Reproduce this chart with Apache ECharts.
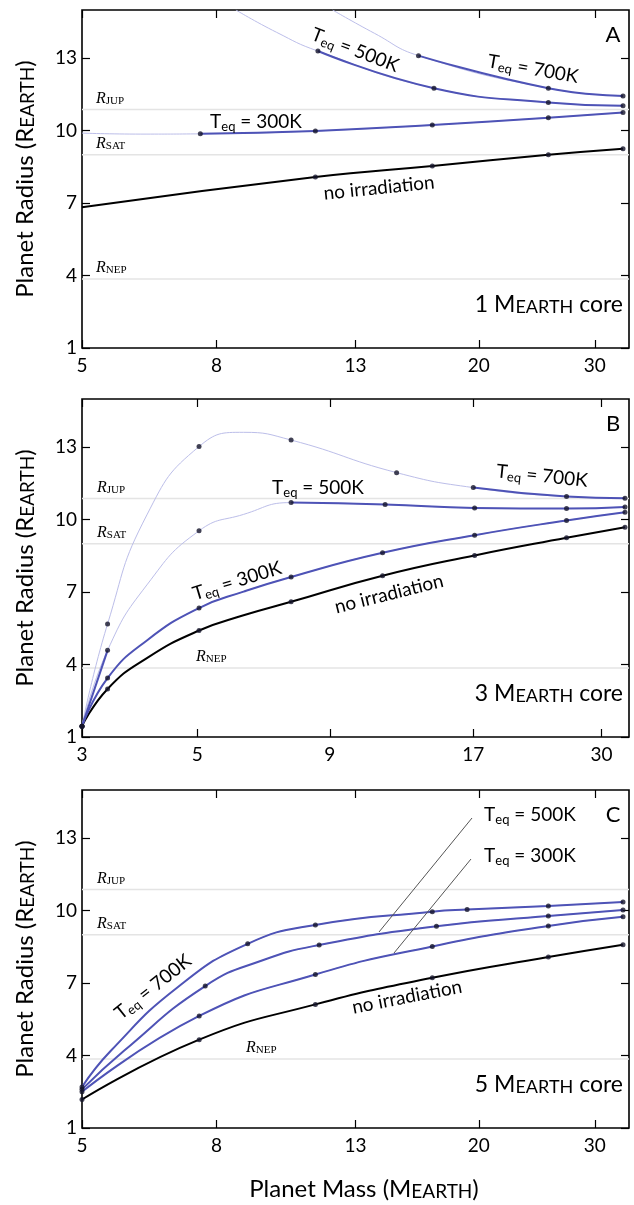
<!DOCTYPE html>
<html><head><meta charset="utf-8">
<script src="https://cdn.jsdelivr.net/npm/echarts@6/dist/echarts.min.js"></script>
<style>html,body{margin:0;padding:0;background:#fff}#c{width:634px;height:1205px}</style>
</head><body><div id="c"></div>
<script>
// ================= DATA =================
const radiusTicks = [1, 4, 7, 10, 13];
const radiusRange = [1, 15];
const refNames = ['JUP', 'SAT', 'NEP'];
const refRadii = [10.88, 9.0, 3.86];

const panelNames = ['A', 'B', 'C'];
const coreMasses = ['1', '3', '5'];
const massRangeA = [5, 33.8];
const massTicksA = [5, 8, 13, 20, 30];
const massRangeB = [3, 33.9];
const massTicksB = [3, 5, 9, 17, 30];
const massRangeC = [5, 33.8];
const massTicksC = [5, 8, 13, 20, 30];

// Panel A : 1 M_EARTH core   ([mass, radius]); model = dotted points, extra = curve-only points
const A_noirr_model = [[11.3, 8.08], [17.0, 8.54], [25.5, 9.00], [33.1, 9.25]];
const A_noirr_extra = [[5.0, 6.83]];
const A_noirr_thick = [[5, 34]];
const A_t300_model = [[7.56, 9.87], [11.3, 9.99], [17.0, 10.24], [25.5, 10.54], [33.1, 10.75]];
const A_t300_extra = [[5.0, 9.90], [6.14, 9.86]];
const A_t300_thick = [[7.5, 34]];
const A_t500_model = [[11.4, 13.30], [17.1, 11.76], [25.5, 11.17], [33.1, 11.03]];
const A_t500_extra = [[8.56, 15.0], [9.86, 14.08]];
const A_t500_thick = [[11.3, 34]];
const A_t700_model = [[16.2, 13.11], [25.5, 11.76], [33.1, 11.44]];
const A_t700_extra = [[12.0, 15.0], [13.9, 14.03]];
const A_t700_thick = [[16, 34]];

// Panel B : 3 M_EARTH core
const B_noirr_model = [[3.0, 1.45], [3.36, 2.99], [5.04, 5.41], [7.58, 6.60], [11.37, 7.68], [17.1, 8.52], [25.7, 9.25], [33.3, 9.69]];
const B_noirr_extra = [[4.0, 4.27], [6.14, 6.04]];
const B_noirr_thick = [[3, 34]];
const B_t300_model = [[3.0, 1.45], [3.36, 3.44], [5.04, 6.34], [7.58, 7.63], [11.37, 8.63], [17.1, 9.36], [25.7, 9.97], [33.3, 10.31]];
const B_t300_extra = [[4.0, 5.0], [6.14, 7.02]];
const B_t300_thick = [[3, 34]];
const B_t500_model = [[3.0, 1.45], [3.36, 4.59], [5.04, 9.54], [7.58, 10.71], [11.5, 10.63], [17.1, 10.49], [25.7, 10.46], [33.3, 10.53]];
const B_t500_extra = [[4.0, 7.3], [6.14, 10.22]];
const B_t500_thick = [[3, 3.4], [7.5, 34]];
const B_t700_model = [[3.0, 1.45], [3.36, 5.68], [5.04, 13.03], [7.58, 13.30], [12.1, 11.95], [17.0, 11.33], [25.7, 10.96], [33.3, 10.89]];
const B_t700_extra = [[4.0, 10.2], [6.14, 13.62]];
const B_t700_thick = [[16.9, 34]];

// Panel C : 5 M_EARTH core
const C_noirr_model = [[5.0, 2.18], [7.53, 4.66], [11.3, 6.12], [17.0, 7.22], [25.5, 8.08], [33.1, 8.59]];
const C_noirr_extra = [];
const C_noirr_thick = [[5, 34]];
const C_t300_model = [[5.0, 2.5], [7.53, 5.64], [11.3, 7.36], [17.0, 8.52], [25.5, 9.37], [33.1, 9.75]];
const C_t300_extra = [];
const C_t300_thick = [[5, 34]];
const C_t500_model = [[5.0, 2.6], [7.69, 6.88], [11.45, 8.58], [17.25, 9.36], [25.5, 9.78], [33.1, 10.03]];
const C_t500_extra = [[5.79, 4.2], [9.4, 7.95]];
const C_t500_thick = [[5, 34]];
const C_t700_model = [[5.0, 2.7], [8.92, 8.63], [11.3, 9.41], [17.0, 9.96], [19.2, 10.05], [25.5, 10.2], [33.1, 10.36]];
const C_t700_extra = [[5.53, 4.2], [7.0, 6.85]];
const C_t700_thick = [[5, 34]];

// ================= STYLE / LAYOUT =================
const BLUE = '#4e53b6', FAINT = '#bcbee9', BLACK = '#000', DOT = '#14142a';
const SANS = 'Lato', SERIF = 'Liberation Serif';
const GL = 82, GW = 547, GH = 338;
const GTOPS = [10, 399, 790];
const SMOOTH = 0.5;

const panels = [
  {range: massRangeA, ticks: massTicksA, curves: [
    [A_noirr_model, A_noirr_extra, A_noirr_thick, false],
    [A_t300_model, A_t300_extra, A_t300_thick, true],
    [A_t500_model, A_t500_extra, A_t500_thick, true],
    [A_t700_model, A_t700_extra, A_t700_thick, true]]},
  {range: massRangeB, ticks: massTicksB, curves: [
    [B_noirr_model, B_noirr_extra, B_noirr_thick, false],
    [B_t300_model, B_t300_extra, B_t300_thick, true],
    [B_t500_model, B_t500_extra, B_t500_thick, true],
    [B_t700_model, B_t700_extra, B_t700_thick, true]]},
  {range: massRangeC, ticks: massTicksC, curves: [
    [C_noirr_model, C_noirr_extra, C_noirr_thick, false],
    [C_t300_model, C_t300_extra, C_t300_thick, true],
    [C_t500_model, C_t500_extra, C_t500_thick, true],
    [C_t700_model, C_t700_extra, C_t700_thick, true]]}
];

const grid = [], xAxis = [], yAxis = [], series = [];
panels.forEach((p, i) => {
  grid.push({left: GL, top: GTOPS[i], width: GW, height: GH, show: true,
    borderColor: '#000', borderWidth: 1.6, backgroundColor: 'transparent'});
  const lt = p.ticks.map(Math.log10);
  const tickStyle = {show: true, inside: true, length: 8, customValues: lt, lineStyle: {color: '#000', width: 1.2}};
  xAxis.push({type: 'log', logBase: 10, gridIndex: i, min: p.range[0], max: p.range[1], show: false});
  xAxis.push({type: 'value', gridIndex: i, position: 'bottom', min: Math.log10(p.range[0]), max: Math.log10(p.range[1]),
    splitLine: {show: false}, axisLine: {show: false}, axisTick: tickStyle,
    axisLabel: {customValues: lt, formatter: v => String(Math.round(Math.pow(10, v))),
      fontFamily: SANS, fontSize: 19, color: '#000', margin: 8}});
  xAxis.push({type: 'value', gridIndex: i, position: 'top', min: Math.log10(p.range[0]), max: Math.log10(p.range[1]),
    splitLine: {show: false}, axisLine: {show: false}, axisTick: tickStyle, axisLabel: {show: false}});
  const yt = {show: true, inside: true, length: 8, customValues: radiusTicks, lineStyle: {color: '#000', width: 1.2}};
  yAxis.push({type: 'value', gridIndex: i, position: 'left', min: radiusRange[0], max: radiusRange[1],
    splitLine: {show: false}, axisLine: {show: false}, axisTick: yt,
    axisLabel: {customValues: radiusTicks, fontFamily: SANS, fontSize: 19, color: '#000', margin: 5}});
  yAxis.push({type: 'value', gridIndex: i, position: 'right', min: radiusRange[0], max: radiusRange[1],
    splitLine: {show: false}, axisLine: {show: false}, axisTick: yt, axisLabel: {show: false}});
  const xi = i * 3, yi = i * 2;
  refRadii.forEach(r => series.push({type: 'line', xAxisIndex: xi, yAxisIndex: yi, silent: true, showSymbol: false,
    data: [[p.range[0], r], [p.range[1], r]], lineStyle: {color: '#e4e4e4', width: 1.5}, z: 1}));
  p.curves.forEach(([model, extra, thick, blue]) => {
    const all = model.concat(extra).sort((a, b) => a[0] - b[0]);
    if (blue) series.push({type: 'line', xAxisIndex: xi, yAxisIndex: yi, data: all, smooth: SMOOTH,
      showSymbol: false, silent: true, lineStyle: {color: FAINT, width: 1}, z: 2});
    thick.forEach(([lo, hi]) => series.push({type: 'line', xAxisIndex: xi, yAxisIndex: yi,
      data: all.filter(q => q[0] >= lo && q[0] <= hi), smooth: SMOOTH, showSymbol: false, silent: true,
      lineStyle: {color: blue ? BLUE : BLACK, width: 2}, z: 3}));
    series.push({type: 'scatter', xAxisIndex: xi, yAxisIndex: yi, data: model, symbolSize: 5, silent: true,
      itemStyle: {color: DOT}, z: 4});
  });
});

// ================= ANNOTATIONS =================
const teqRich = {
  t: {fontFamily: SANS, fontSize: 19, color: '#000', lineHeight: 22, verticalAlign: 'middle'},
  s: {fontFamily: SANS, fontSize: 13, color: '#000', lineHeight: 13, verticalAlign: 'bottom'}
};
function txt(x, y, text, rot, style) {
  return {type: 'text', x: x, y: y, rotation: (rot || 0) * Math.PI / 180, silent: true, z: 10,
    style: Object.assign({text: text, align: 'center', verticalAlign: 'middle', fill: '#000', fontFamily: SANS, fontSize: 19}, style || {})};
}
function teq(x, y, T, rot) {
  return txt(x, y, '{t|T}{s|eq}{t| = ' + T + '}', rot, {rich: teqRich});
}
const graphic = [];
const yPix = (i, r) => GTOPS[i] + (radiusRange[1] - r) / (radiusRange[1] - radiusRange[0]) * GH;
const refLabelX = [[96, 96, 96], [97, 97, 196], [97, 97, 246]];
const rRich = {
  r: {fontFamily: SERIF, fontStyle: 'italic', fontSize: 16, color: '#222', lineHeight: 16, verticalAlign: 'middle'},
  s: {fontFamily: SERIF, fontSize: 11, color: '#222', lineHeight: 11, verticalAlign: 'bottom'}
};
panels.forEach((p, i) => {
  refNames.forEach((n, k) => graphic.push(txt(refLabelX[i][k], yPix(i, refRadii[k]) - 3, '{r|R}{s|' + n + '}', 0,
    {rich: rRich, align: 'left', verticalAlign: 'bottom'})));
  graphic.push(txt(613, GTOPS[i] + 25, panelNames[i], 0, {fontSize: 22}));
  graphic.push(txt(623, GTOPS[i] + GH - 44.5, '{a|' + coreMasses[i] + ' M}{b|EARTH}{a| core}', 0, {align: 'right',
    rich: {a: {fontFamily: SANS, fontSize: 23, color: '#000', lineHeight: 25, verticalAlign: 'bottom'},
           b: {fontFamily: SANS, fontSize: 18, color: '#000', lineHeight: 22, verticalAlign: 'bottom'}}}));
  graphic.push(txt(23, GTOPS[i] + GH / 2, '{a|Planet Radius (R}{b|EARTH}{a|)}', 90, {
    rich: {a: {fontFamily: SANS, fontSize: 24, color: '#000', lineHeight: 28, verticalAlign: 'bottom'},
           b: {fontFamily: SANS, fontSize: 19, color: '#000', lineHeight: 24, verticalAlign: 'bottom'}}}));
});
graphic.push(txt(364, 1187, '{a|Planet Mass (M}{b|EARTH}{a|)}', 0, {
  rich: {a: {fontFamily: SANS, fontSize: 24, color: '#000', lineHeight: 28, verticalAlign: 'bottom'},
         b: {fontFamily: SANS, fontSize: 19, color: '#000', lineHeight: 24, verticalAlign: 'bottom'}}}));
// Panel A
graphic.push(teq(355, 50, '500K', -21));
graphic.push(teq(533, 69, '700K', -10));
graphic.push(teq(256, 122, '300K', 0));
graphic.push(txt(379, 188, 'no irradiation', 5.8, {fontSize: 19}));
// Panel B
graphic.push(teq(542, 476, '700K', -6));
graphic.push(teq(318, 488, '500K', 0));
graphic.push(teq(237, 581, '300K', 17));
graphic.push(txt(389, 594, 'no irradiation', 14, {fontSize: 19}));
// Panel C
graphic.push(teq(530, 815, '500K', 0));
graphic.push(teq(530, 856, '300K', 0));
graphic.push(teq(153, 987, '700K', 38.5));
graphic.push(txt(407, 997, 'no irradiation', 11, {fontSize: 19}));
graphic.push({type: 'line', silent: true, z: 9, shape: {x1: 472, y1: 818, x2: 379, y2: 932}, style: {stroke: '#555', lineWidth: 1}});
graphic.push({type: 'line', silent: true, z: 9, shape: {x1: 471, y1: 859, x2: 394, y2: 953}, style: {stroke: '#555', lineWidth: 1}});

const chart = echarts.init(document.getElementById('c'), null, {renderer: 'canvas'});
chart.setOption({animation: false, backgroundColor: '#fff', grid, xAxis, yAxis, series, graphic});
</script></body></html>
